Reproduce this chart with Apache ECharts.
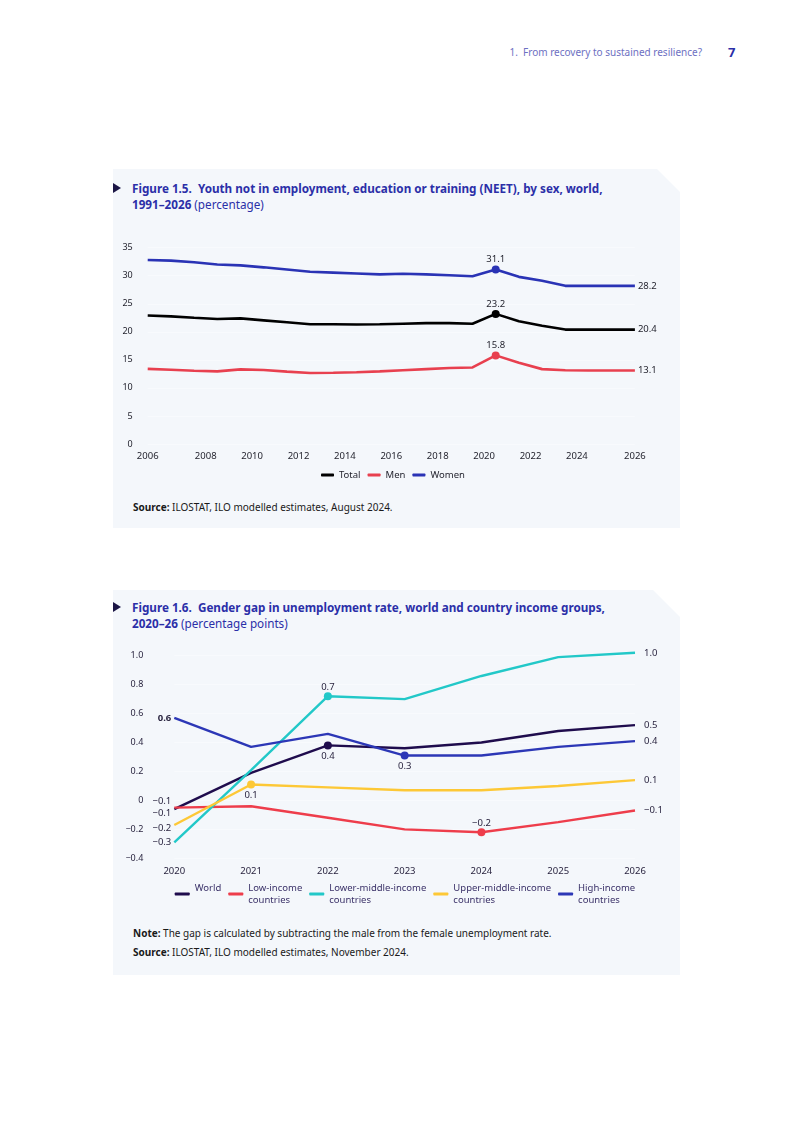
<!DOCTYPE html>
<html>
<head>
<meta charset="utf-8">
<script src="https://cdn.jsdelivr.net/npm/echarts@6/dist/echarts.min.js"></script>
<style>
html,body{margin:0;padding:0;background:#fff;}
body{width:793px;height:1121px;position:relative;font-family:"Noto Sans",sans-serif;overflow:hidden;}
.panel{position:absolute;background:#f4f7fb;}
.hdr{position:absolute;top:46px;right:91px;font-size:10px;line-height:12px;color:#6d70c2;white-space:nowrap;}
.pg{position:absolute;left:728px;top:45px;font-size:13px;line-height:14px;font-weight:700;color:#2b2fa8;}
.title{position:absolute;left:132px;font-size:11.7px;line-height:16px;color:#2b2fa8;white-space:nowrap;}
.title b{font-weight:700;}
.tri{position:absolute;left:113px;width:0;height:0;border-top:5px solid transparent;border-bottom:5px solid transparent;border-left:8px solid #1c1646;}
.note{position:absolute;left:133px;font-size:10px;line-height:12px;color:#1a1a1a;white-space:nowrap;}
.note b{font-weight:700;}
.chart{position:absolute;}
</style>
</head>
<body>
<div class="hdr">1.&nbsp; From recovery to sustained resilience?</div>
<div class="pg">7</div>

<div class="panel" style="left:113px;top:169px;width:567px;height:359px;clip-path:polygon(0 0,544px 0,567px 23px,567px 100%,0 100%);"></div>
<div class="tri" style="top:183px;"></div>
<div class="title" style="top:180px;"><b>Figure 1.5.&nbsp; Youth not in employment, education or training (NEET), by sex, world,</b><br><b>1991–2026</b> (percentage)</div>
<div id="c1" class="chart" style="left:113px;top:230px;width:567px;height:260px;"></div>
<div class="note" style="top:501px;"><b>Source:</b> ILOSTAT, ILO modelled estimates, August 2024.</div>

<div class="panel" style="left:113px;top:590px;width:567px;height:385px;clip-path:polygon(0 0,540px 0,567px 27px,567px 100%,0 100%);"></div>
<div class="tri" style="top:602px;"></div>
<div class="title" style="top:599px;"><b>Figure 1.6.&nbsp; Gender gap in unemployment rate, world and country income groups,</b><br><b>2020–26</b> (percentage points)</div>
<div id="c2" class="chart" style="left:113px;top:640px;width:567px;height:280px;"></div>
<div class="note" style="top:927px;"><b>Note:</b> The gap is calculated by subtracting the male from the female unemployment rate.</div>
<div class="note" style="top:946px;"><b>Source:</b> ILOSTAT, ILO modelled estimates, November 2024.</div>

<script>
// ---------- Figure 1.5 data ----------
const years1 = [2005, 2006, 2007, 2008, 2009, 2010, 2011, 2012, 2013, 2014, 2015, 2016, 2017, 2018, 2019, 2020, 2021, 2022, 2023, 2024, 2025, 2026];
const total = [22.9, 22.75, 22.5, 22.3, 22.4, 22.05, 21.7, 21.35, 21.35, 21.3, 21.35, 21.45, 21.55, 21.55, 21.45, 23.2, 21.9, 21.1, 20.4, 20.4, 20.4, 20.4];
const men = [13.4, 13.25, 13.05, 12.95, 13.3, 13.2, 12.9, 12.65, 12.7, 12.8, 12.95, 13.15, 13.35, 13.55, 13.65, 15.8, 14.5, 13.35, 13.15, 13.1, 13.1, 13.1];
const women = [32.8, 32.7, 32.4, 32.0, 31.85, 31.5, 31.1, 30.7, 30.55, 30.4, 30.25, 30.35, 30.25, 30.1, 29.9, 31.1, 29.8, 29.1, 28.2, 28.2, 28.2, 28.2];
const xTickValues1 = [2005.5, 2008, 2010, 2012, 2014, 2016, 2018, 2020, 2022, 2024, 2026.5];
const xTickLabels1 = ['2006', '2008', '2010', '2012', '2014', '2016', '2018', '2020', '2022', '2024', '2026'];
const yTicks1 = [0, 5, 10, 15, 20, 25, 30, 35];
const seriesNames1 = ['Total', 'Men', 'Women'];
const highlightYear1 = 2020;

// ---------- Figure 1.6 data ----------
const years2 = ['2020', '2021', '2022', '2023', '2024', '2025', '2026'];
const world = [-0.06, 0.19, 0.38, 0.36, 0.40, 0.48, 0.52];
const lowIncome = [-0.05, -0.04, -0.12, -0.20, -0.22, -0.15, -0.07];
const lowerMiddle = [-0.29, 0.21, 0.72, 0.70, 0.86, 0.99, 1.02];
const upperMiddle = [-0.17, 0.11, 0.09, 0.07, 0.07, 0.10, 0.14];
const highIncome = [0.57, 0.37, 0.46, 0.31, 0.31, 0.37, 0.41];
const seriesNames2 = ['World', 'Low-income countries', 'Lower-middle-income countries', 'Upper-middle-income countries', 'High-income countries'];
const legendLabels2 = ['World\n ', 'Low-income\ncountries', 'Lower-middle-income\ncountries', 'Upper-middle-income\ncountries', 'High-income\ncountries'];
const highlightYear2 = ['2022', '2024', '2022', '2021', '2023'];

// ---------- Chart 1 ----------
const TXT = '#1f1f2a';
const c1 = echarts.init(document.getElementById('c1'), null, {renderer: 'canvas'});
const colors1 = ['#000000', '#e8404f', '#2a33b5'];
const hIdx1 = years1.indexOf(highlightYear1);
function build1(vals) {
  return vals.map((v, i) => {
    const it = {value: [years1[i] + 0.5, v]};
    if (i === hIdx1) {
      it.symbolSize = 8;
      it.label = {show: true, position: 'top', distance: 1};
    } else if (i === vals.length - 1) {
      it.label = {show: true, position: 'right', distance: 3};
    }
    return it;
  });
}
const vals1 = [total, men, women];
c1.setOption({
  animation: false,
  textStyle: {fontFamily: 'Noto Sans'},
  grid: {left: 34.7, top: 17.7, width: 487.2, height: 196.3},
  legend: {
    data: seriesNames1, left: 203, top: 235, itemWidth: 13, itemHeight: 3, itemGap: 7,
    icon: 'roundRect', textStyle: {fontSize: 9.5, color: TXT, fontFamily: 'Noto Sans'}
  },
  xAxis: {
    type: 'value', min: 2005.5, max: 2026.5,
    axisLine: {show: false}, axisTick: {show: false}, splitLine: {show: false},
    axisLabel: {
      customValues: xTickValues1, margin: 7, fontSize: 9.5, color: TXT, fontFamily: 'Noto Sans',
      formatter: v => { const k = xTickValues1.findIndex(t => Math.abs(t - v) < 1e-6); return k >= 0 ? xTickLabels1[k] : ''; }
    }
  },
  yAxis: {
    type: 'value', min: yTicks1[0], max: yTicks1[yTicks1.length - 1], interval: 5,
    axisLine: {show: false}, axisTick: {show: false},
    splitLine: {show: true, lineStyle: {color: '#f8fafd', width: 1}},
    axisLabel: {margin: 15, fontSize: 9, color: TXT, fontFamily: 'Noto Sans'}
  },
  series: seriesNames1.map((n, k) => ({
    name: n, type: 'line', data: build1(vals1[k]), color: colors1[k],
    symbol: 'circle', symbolSize: 0, showSymbol: true, clip: false,
    lineStyle: {width: 2.6, color: colors1[k]},
    itemStyle: {color: colors1[k]},
    label: {show: false, fontSize: 9.5, color: TXT, fontFamily: 'Noto Sans', formatter: p => p.value[1].toFixed(1)},
    emphasis: {disabled: true}
  }))
});

// ---------- Chart 2 ----------
const c2 = echarts.init(document.getElementById('c2'), null, {renderer: 'canvas'});
const colors2 = ['#1f0c4d', '#ee3d4b', '#22c8c8', '#fdc836', '#2c37b6'];
const vals2 = [world, lowIncome, lowerMiddle, upperMiddle, highIncome];
const markerPos2 = ['bottom', 'top', 'top', 'bottom', 'bottom'];
const startOffset2 = [[0, -8], [0, 6], [0, 0], [0, 3], [0, 0]];
function fmt2(v) {
  const r = Math.round(Math.abs(v) * 10) / 10;
  return (v < 0 && r !== 0 ? '\u2212' : '') + r.toFixed(1);
}
function build2(vals, k) {
  const hi = years2.indexOf(highlightYear2[k]);
  return vals.map((v, i) => {
    const it = {value: v};
    if (i === hi) {
      it.symbolSize = 8;
      it.label = {show: true, position: markerPos2[k], distance: markerPos2[k] === 'top' ? 0 : 2};
    } else if (i === 0) {
      it.label = {show: true, position: 'left', distance: 3, offset: startOffset2[k], fontWeight: k === 4 ? 'bold' : 'normal'};
    } else if (i === vals.length - 1) {
      it.label = {show: true, position: 'right', distance: 9};
    }
    return it;
  });
}
c2.setOption({
  animation: false,
  textStyle: {fontFamily: 'Noto Sans'},
  grid: {left: 61.3, top: 15.7, width: 460.7, height: 202.6},
  legend: {
    data: seriesNames2, left: 56.7, top: 231, itemWidth: 15, itemHeight: 3, itemGap: 7,
    icon: 'roundRect',
    formatter: name => legendLabels2[seriesNames2.indexOf(name)],
    textStyle: {fontSize: 9.5, lineHeight: 12, color: '#3a3168', fontFamily: 'Noto Sans', padding: [12, 0, 0, 0]}
  },
  xAxis: {
    type: 'category', data: years2, boundaryGap: false,
    axisLine: {show: false}, axisTick: {show: false}, splitLine: {show: false},
    axisLabel: {margin: 8, fontSize: 9.5, color: '#2a2540', fontFamily: 'Noto Sans'}
  },
  yAxis: {
    type: 'value', min: -0.4, max: 1.0, interval: 0.2,
    axisLine: {show: false}, axisTick: {show: false},
    splitLine: {show: true, lineStyle: {color: '#f8fafd', width: 1}},
    axisLabel: {
      margin: 31, fontSize: 9, color: '#2a2540', fontFamily: 'Noto Sans',
      formatter: v => Math.abs(v) < 1e-9 ? '0' : (v < 0 ? '\u2212' : '') + Math.abs(v).toFixed(1)
    }
  },
  series: seriesNames2.map((n, k) => ({
    name: n, type: 'line', data: build2(vals2[k], k), color: colors2[k],
    symbol: 'circle', symbolSize: 0, showSymbol: true, showAllSymbol: true, clip: false,
    lineStyle: {width: 2.4, color: colors2[k]},
    itemStyle: {color: colors2[k]},
    label: {show: false, fontSize: 9.5, color: '#2a2540', fontFamily: 'Noto Sans', formatter: p => fmt2(p.value)},
    emphasis: {disabled: true}
  }))
});
</script>
</body>
</html>
